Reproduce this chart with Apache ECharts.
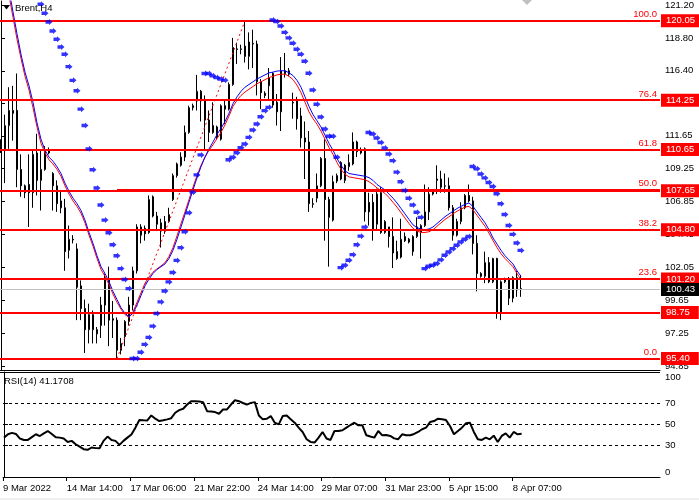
<!DOCTYPE html>
<html><head><meta charset="utf-8">
<script src="https://cdn.jsdelivr.net/npm/echarts@6/dist/echarts.min.js"></script>
<style>html,body{margin:0;padding:0;background:#fff}#c{width:699px;height:500px}</style>
</head><body><div id="c"></div>
<script>
// ---- data ----
const symbolName = 'Brent,H4';
const rsiTitle = 'RSI(14) 41.1708';
const tickLabels = ['9 Mar 2022','14 Mar 14:00','17 Mar 06:00','21 Mar 22:00','24 Mar 14:00','29 Mar 07:00','31 Mar 23:00','5 Apr 15:00','8 Apr 07:00'];
const barsPerTick = 16;
const priceTicks = [121.20,118.80,116.40,114.00,111.65,109.25,106.85,104.45,102.05,99.65,97.25,94.85];
const rsiTicks = [0,30,50,70,100];
const rsiLevels = [70,50,30];

const opens = [111.2,110.7,112.4,113.5,113.5,109.2,108.0,108.1,107.5,110.4,
108.4,109.2,110.6,108.9,108.0,106.9,106.4,103.3,104.1,103.4,
100.7,99.05,97.5,98.6,97.5,97.8,99.3,101.2,98.3,98.2,
96.0,97.0,98.1,99.3,101.8,105.0,104.9,104.6,107.2,105.8,
105.3,104.7,105.4,107.0,108.75,109.5,110.1,111.9,113.7,114.2,
114.9,114.2,112.8,112.4,112.3,111.4,113.85,113.6,115.4,118.0,
117.95,118.2,117.45,118.4,118.35,115.6,114.75,115.3,116.2,114.1,
113.4,116.4,116.4,114.1,114.2,113.1,111.5,111.2,106.7,107.1,
108.0,110.0,107.0,105.5,108.35,109.7,109.5,109.4,109.6,111.2,
110.4,110.7,106.8,106.8,105.2,107.5,104.6,105.0,104.3,103.2,
102.8,104.3,104.1,103.2,104.3,104.6,105.1,106.1,107.4,108.4,
108.5,108.0,108.0,106.4,104.4,105.4,106.4,107.3,106.9,103.8,
101.6,101.4,102.4,101.0,102.7,98.8,101.0,101.2,99.8,101.3,
100.5];
const closes = [110.6,112.4,113.5,113.3,109.2,108.0,107.5,107.5,110.3,108.4,
109.2,110.6,110.4,108.0,106.7,106.4,103.2,104.1,104.05,100.6,
99.05,97.5,98.6,97.5,97.2,99.3,101.2,98.2,98.2,96.0,
96.5,98.1,99.3,101.8,105.0,104.4,104.5,107.0,105.8,105.2,
104.7,105.4,105.9,108.75,109.6,110.1,111.9,113.7,113.85,114.9,
114.2,112.8,111.9,111.9,111.55,113.85,113.6,115.4,118.1,117.95,
118.0,117.45,118.5,118.35,115.6,114.8,114.6,115.9,113.9,113.4,
116.4,116.2,116.15,114.05,112.9,111.5,111.2,106.7,106.65,108.0,
110.0,107.0,105.7,108.3,108.75,108.5,108.4,109.7,111.2,110.5,
110.6,106.1,106.1,104.8,107.4,104.6,105.4,104.3,103.1,102.7,
104.1,104.0,103.9,104.3,105.0,105.1,106.1,107.4,107.6,108.5,
107.9,107.98,106.4,104.4,105.4,106.4,107.3,106.9,103.8,101.6,
101.4,102.4,101.0,102.7,98.8,101.0,101.2,99.8,101.3,100.4,
100.43];
const lows = [110.4,108.2,110.7,111.3,107.9,107.2,107.1,105.0,106.4,107.3,
106.2,109.1,110.3,106.2,106.1,106.0,101.8,102.7,103.8,98.2,
98.2,95.8,96.5,96.5,96.5,96.9,97.8,96.3,96.9,95.4,
95.7,96.3,97.8,98.9,101.6,103.8,104.0,104.5,105.7,104.7,
103.5,104.5,105.3,106.9,108.6,109.4,109.8,111.8,113.5,113.5,
112.7,110.6,111.2,111.8,111.4,111.3,112.5,113.5,115.3,116.9,
117.6,117.0,116.5,116.6,114.6,113.6,114.4,114.3,113.7,112.4,
112.0,115.9,116.0,112.9,112.1,110.8,108.5,106.1,106.4,106.8,
107.9,104.0,102.1,105.4,108.2,108.4,108.2,109.1,109.5,110.1,
110.3,105.4,105.1,104.0,104.8,104.5,104.5,103.5,102.0,102.6,
102.7,103.9,103.8,102.9,104.2,102.7,105.0,105.5,107.3,107.4,
107.5,107.5,106.2,104.0,104.3,105.2,106.3,106.8,103.0,100.3,
101.3,100.9,100.9,100.9,98.3,98.2,100.9,99.3,99.5,99.9,
99.9];
const highs = [111.4,113.2,115.2,115.3,116.2,110.3,108.1,110.3,110.6,111.8,
110.6,110.9,110.8,109.0,108.4,107.7,107.05,105.1,104.4,103.8,
101.1,99.7,99.4,98.9,97.7,99.9,101.6,102.1,99.6,98.4,
96.9,98.2,99.9,102.1,105.2,105.2,105.1,107.3,107.3,106.1,
105.6,105.8,106.4,108.9,109.7,110.45,112.4,113.85,114.0,116.1,
115.0,114.6,113.5,114.1,112.4,113.95,114.3,115.55,118.8,118.45,
118.3,120.05,119.2,119.4,118.6,115.8,114.9,116.6,116.3,114.7,
117.4,117.7,116.6,114.8,114.5,113.7,112.7,112.0,107.1,108.9,
110.1,111.4,107.2,108.75,108.9,109.8,109.6,110.3,111.9,111.3,
110.8,110.8,107.5,107.4,107.8,107.9,105.5,105.0,105.7,104.0,
105.6,104.6,104.2,104.4,105.7,105.2,108.1,107.9,107.7,109.5,
109.1,108.9,108.6,106.6,105.6,106.8,107.4,108.1,107.2,104.4,
101.7,103.2,102.8,102.75,102.75,101.1,101.3,101.35,101.4,101.8,
101.5];

const sar = [126.0,125.4,124.8,124.2,123.6,123.1,122.6,122.2,121.9,121.6,
121.25,120.6,119.96,119.3,118.7,118.14,117.6,116.7,115.7,114.94,
113.6,112.4,110.7,109.17,107.85,106.6,105.5,104.58,103.7,102.9,
101.96,101.16,100.5,95.40,95.40,95.85,96.43,96.94,97.76,98.68,
99.53,100.33,100.99,101.67,102.56,103.49,104.65,106.03,107.54,108.8,
110.26,116.2,116.2,116.03,115.9,115.8,115.7,109.9,110.09,110.41,
110.78,111.06,111.54,112.08,112.52,113.05,113.49,113.73,120.1,120.0,
119.67,119.2,118.8,118.41,117.97,117.6,117.1,116.22,114.99,113.96,
113.02,112.15,111.62,111.62,110.09,102.03,102.2,102.57,102.98,103.7,
104.33,104.99,111.9,111.78,111.49,111.17,110.76,110.32,109.84,109.0,
108.3,107.66,107.1,106.6,106.08,105.7,101.96,102.13,102.2,102.33,
102.6,102.93,103.17,103.41,103.66,103.9,104.1,104.31,109.41,109.24,
108.87,108.58,108.24,107.95,107.42,106.69,105.91,105.11,104.46,103.83,
103.29];

const maBlue = [125.2,123.9,122.3,120.7,119.1,117.6,116.3,115.3,114.1,112.6,
111.4,110.6,110.1,109.8,109.4,108.9,108.2,107.6,107.1,106.7,
106.2,105.5,104.6,103.8,102.9,102.1,101.6,101.0,100.3,99.7,
99.1,98.7,98.45,98.7,99.3,100.0,100.7,101.2,101.6,101.9,
102.1,102.3,102.7,103.3,104.1,105.0,105.9,106.8,107.7,108.6,
109.4,110.1,110.7,111.2,111.75,112.2,112.7,113.3,114.0,114.5,
114.9,115.2,115.4,115.6,115.8,115.95,116.1,116.25,116.3,116.38,
116.4,116.4,116.25,116.05,115.7,115.2,114.5,113.8,113.2,112.75,
112.3,111.7,111.1,110.6,110.0,109.5,109.1,108.9,108.85,108.8,
108.75,108.7,108.6,108.4,108.1,107.9,107.7,107.4,107.1,106.75,
106.35,105.95,105.55,105.15,104.95,104.85,104.8,104.85,105.0,105.25,
105.5,105.75,105.95,106.15,106.35,106.5,106.65,106.75,106.5,106.1,
105.7,105.3,104.8,104.2,103.75,103.3,102.9,102.6,102.3,101.8,
101.4];
const maRed = [124.9,123.5,121.9,120.3,118.7,117.3,116.0,115.0,113.7,112.3,
111.1,110.4,109.9,109.6,109.2,108.7,108.0,107.4,106.9,106.5,
106.0,105.3,104.4,103.6,102.7,101.9,101.4,100.8,100.1,99.5,
99.0,98.6,98.4,98.8,99.5,100.2,100.9,101.35,101.7,101.95,
102.15,102.4,102.85,103.5,104.35,105.25,106.1,107.0,107.9,108.75,
109.5,110.1,110.6,111.0,111.45,111.9,112.45,113.1,113.8,114.25,
114.6,114.85,115.05,115.25,115.45,115.6,115.75,115.9,116.0,116.1,
116.15,116.15,116.0,115.75,115.35,114.8,114.1,113.4,112.9,112.5,
112.0,111.4,110.8,110.3,109.7,109.2,108.85,108.65,108.6,108.55,
108.5,108.45,108.3,108.1,107.85,107.65,107.45,107.15,106.8,106.45,
106.05,105.65,105.25,104.9,104.7,104.6,104.6,104.65,104.8,105.05,
105.3,105.55,105.75,105.95,106.15,106.3,106.45,106.5,106.25,105.85,
105.45,105.05,104.55,104.0,103.5,103.05,102.7,102.4,102.1,101.6,
101.15];

const rsi = [37.5,40.7,42.0,41.0,36.6,35.3,35.3,38.0,40.7,39.0,
41.6,43.8,41.0,37.8,37.5,36.6,33.4,34.4,31.2,29.0,
26.5,25.9,28.1,27.5,27.4,34.4,38.5,35.3,34.4,30.6,
34.4,37.5,40.5,47.0,54.2,54.0,53.9,58.6,55.5,53.3,
54.0,54.9,56.0,61.2,63.7,65.0,69.0,72.2,72.2,72.0,
71.3,62.7,62.3,61.8,60.2,64.3,64.3,69.0,73.1,72.2,
70.5,69.0,70.6,71.3,58.6,54.9,55.5,58.0,51.7,50.1,
58.0,58.6,55.0,51.7,47.0,42.9,36.0,33.4,32.8,37.5,
42.9,36.6,35.3,43.8,43.8,44.5,47.0,49.5,51.7,49.2,
49.2,39.7,38.5,37.5,43.8,39.7,40.0,39.1,36.8,36.0,
40.7,39.7,39.7,41.0,42.9,45.5,47.0,52.3,53.3,55.5,
55.0,54.2,48.6,40.7,43.8,47.0,51.1,51.7,42.9,35.9,
35.3,37.5,35.9,39.4,33.4,39.1,41.6,37.5,42.9,40.7,
41.17];

const hLevels = [120.05,114.25,110.65,107.65,104.80,101.20,98.75,95.40];
const currentPrice = 100.43;
const fibPercents = [0.0,23.6,38.2,50.0,61.8,76.4,100.0];
const fibLowBar = 29, fibLowPrice = 95.40;
const fibHighBar = 61, fibHighPrice = 120.05;

// ---- chart ----
const FONT = 'Liberation Sans, Arial, sans-serif';
const FS = 9.5;
const X_MIN = -0.25, X_MAX = 164.75;
const xTickVals = tickLabels.map((_, k) => k * barsPerTick + X_MIN);
const idx = closes.map((_, i) => i);
const candleData = idx.map(i => [i, opens[i], closes[i], lows[i], highs[i]]);
const pair = arr => idx.map(i => [i, arr[i]]);
const fibLevels = fibPercents.map(p => fibLowPrice + p / 100 * (fibHighPrice - fibLowPrice));
// a fib ray is only drawn on its own where it does not coincide with a horizontal level
const fibVisible = fibLevels.map(lv => !hLevels.some(h => Math.abs(h - lv) < 0.05));

const sarSymbol = 'path://M0,1.5 L4,1.5 L4,0 L8,3.5 L4,7 L4,5.5 L0,5.5 Z';

const chart = echarts.init(document.getElementById('c'), null, {renderer: 'canvas'});
const option = {
  animation: false,
  backgroundColor: '#fff',
  grid: [
    {left: 0, right: 39, top: 0, height: 370},
    {left: 0, right: 39, top: 372, height: 105}
  ],
  xAxis: [
    {gridIndex: 0, type: 'value', min: X_MIN, max: X_MAX,
     axisLine: {show: true, onZero: false, lineStyle: {color: '#000', width: 1}},
     axisTick: {show: false}, axisLabel: {show: false}, splitLine: {show: false}},
    {gridIndex: 1, type: 'value', min: X_MIN, max: X_MAX, position: 'bottom',
     axisLine: {show: true, onZero: false, lineStyle: {color: '#000', width: 1}},
     axisTick: {show: true, length: 4, customValues: xTickVals, lineStyle: {color: '#000'}},
     axisLabel: {show: true, customValues: xTickVals, align: 'left', margin: 6,
       color: '#000', fontSize: FS, fontFamily: FONT,
       formatter: v => tickLabels[Math.round((v - X_MIN) / barsPerTick)] || ''},
     splitLine: {show: false}}
  ],
  yAxis: [
    {gridIndex: 0, type: 'value', position: 'right', min: 94.56, max: 121.49,
     axisLine: {show: true, lineStyle: {color: '#000', width: 1}},
     axisTick: {show: true, length: 4, customValues: priceTicks, lineStyle: {color: '#000'}},
     axisLabel: {show: true, customValues: priceTicks, margin: 5, color: '#000',
       fontSize: FS, fontFamily: FONT, formatter: v => v.toFixed(2)},
     splitLine: {show: false}},
    {gridIndex: 1, type: 'value', position: 'right', min: 0, max: 100,
     axisLine: {show: true, lineStyle: {color: '#000', width: 1}},
     axisTick: {show: true, length: 4, customValues: rsiTicks, lineStyle: {color: '#000'}},
     axisLabel: {show: true, customValues: rsiTicks, margin: 5, color: '#000',
       fontSize: FS, fontFamily: FONT, verticalAlignMaxLabel: 'top', verticalAlignMinLabel: 'bottom'},
     splitLine: {show: false}}
  ],
  series: [
    {
      name: 'levels', type: 'line', xAxisIndex: 0, yAxisIndex: 0, data: [], z: 3,
      markLine: {
        silent: true, symbol: ['none', 'none'], animation: false,
        lineStyle: {color: '#ff0000', width: 2, type: 'solid'},
        label: {show: true, position: 'end', distance: 1, color: '#fff', backgroundColor: '#ff0000',
          padding: [2, 9, 1, 5], fontSize: FS, fontFamily: FONT, formatter: p => Number(p.value).toFixed(2)},
        data: hLevels.map(v => ({yAxis: v})).concat([{
          yAxis: currentPrice,
          lineStyle: {color: '#c0c0c0', width: 1},
          label: {backgroundColor: '#000', color: '#fff'}
        }])
      }
    },
    {
      name: 'fib', type: 'line', xAxisIndex: 0, yAxisIndex: 0, data: [], z: 3,
      markLine: {
        silent: true, symbol: ['none', 'none'], animation: false,
        lineStyle: {color: '#ff0000', width: 2, type: 'solid'},
        label: {show: true, position: 'insideEndTop', distance: [3, 1], color: '#ff0000',
          fontSize: FS, fontFamily: FONT},
        data: fibLevels.map((lv, k) => [
          {coord: [fibLowBar, lv],
           label: {formatter: fibPercents[k].toFixed(1), color: '#ff0000'},
           lineStyle: {color: fibVisible[k] ? '#ff0000' : 'rgba(0,0,0,0)'}},
          {coord: [X_MAX, lv]}
        ])
      }
    },
    {
      name: 'fibTrend', type: 'line', xAxisIndex: 0, yAxisIndex: 0, z: 3,
      data: [[fibLowBar, fibLowPrice], [fibHighBar, fibHighPrice]],
      symbol: 'none', lineStyle: {color: '#ff0000', width: 1, type: [2, 3]}
    },
    {
      name: 'Brent', type: 'candlestick', xAxisIndex: 0, yAxisIndex: 0, z: 2,
      data: candleData, encode: {x: 0, y: [1, 2, 3, 4]},
      barWidth: 2,
      itemStyle: {color: '#ffffff', color0: '#000000', borderColor: '#000000', borderColor0: '#000000', borderWidth: 1}
    },
    {
      name: 'MA red', type: 'line', xAxisIndex: 0, yAxisIndex: 0, z: 4,
      data: pair(maRed), symbol: 'none', lineStyle: {color: '#ff0000', width: 1}
    },
    {
      name: 'MA blue', type: 'line', xAxisIndex: 0, yAxisIndex: 0, z: 4,
      data: pair(maBlue), symbol: 'none', lineStyle: {color: '#0000ff', width: 1}
    },
    {
      name: 'SAR', type: 'scatter', xAxisIndex: 0, yAxisIndex: 0, z: 5,
      data: pair(sar), symbol: sarSymbol, symbolSize: [7, 6],
      itemStyle: {color: '#0000ff'}, clip: true
    },
    {
      name: 'RSI', type: 'line', xAxisIndex: 1, yAxisIndex: 1, z: 3,
      data: pair(rsi), symbol: 'none', lineStyle: {color: '#000', width: 2},
      markLine: {
        silent: true, symbol: ['none', 'none'], animation: false,
        lineStyle: {color: '#000', width: 1, type: [3, 3]},
        label: {show: false},
        data: rsiLevels.map(v => ({yAxis: v}))
      }
    }
  ],
  graphic: [
    {type: 'line', shape: {x1: 0, y1: 372.5, x2: 660, y2: 372.5}, style: {stroke: '#000', lineWidth: 1}, z: 10},
    {type: 'polygon', shape: {points: [[3, 5], [10, 5], [6.5, 9.5]]}, style: {fill: '#000'}, z: 10},
    {type: 'text', x: 15, y: 8, style: {text: symbolName, fill: '#000', font: FS + 'px ' + FONT, textVerticalAlign: 'middle'}, z: 10},
    {type: 'polygon', shape: {points: [[522, 0], [532, 0], [527, 5]]}, style: {fill: '#c0c0c0'}, z: 10},
    {type: 'text', x: 4, y: 381, style: {text: rsiTitle, fill: '#000', font: FS + 'px ' + FONT, textVerticalAlign: 'middle'}, z: 10},
    {type: 'rect', shape: {x: 0, y: 498, width: 699, height: 2}, style: {fill: '#f0f0f0'}, z: 10}
  ]
};
chart.setOption(option);
</script>
</body></html>
